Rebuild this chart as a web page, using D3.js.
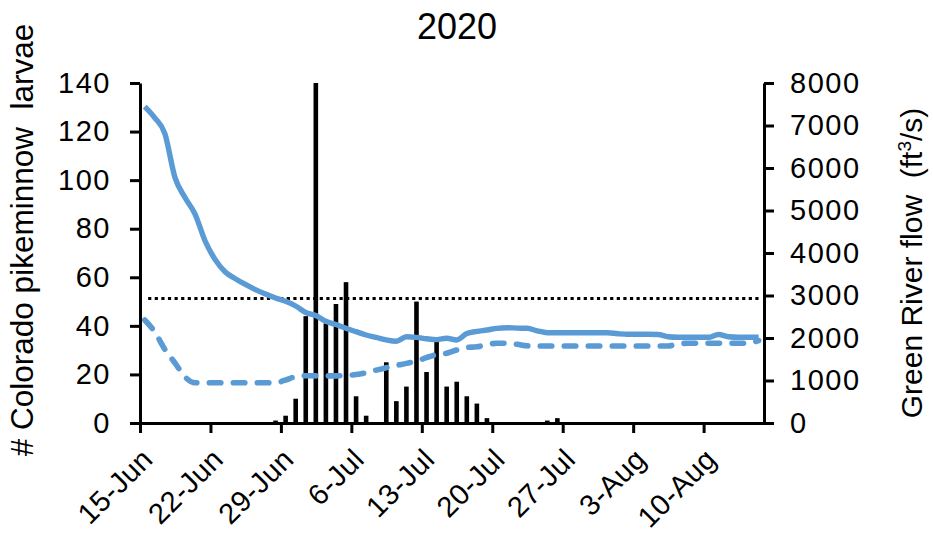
<!DOCTYPE html>
<html>
<head>
<meta charset="utf-8">
<script src="https://cdn.jsdelivr.net/npm/d3@7"></script>
<style>
  html, body { margin: 0; padding: 0; background: #fff; }
  svg text { font-family: "Liberation Sans", Arial, sans-serif; fill: #000; }
</style>
</head>
<body>
<svg id="chart" width="933" height="533"></svg>
<script>
// ---- data ----
const startDate = "2020-06-15";           // day 0
const nDays = 62;                          // 15-Jun .. 15-Aug
const tickDays = [0, 7, 14, 21, 28, 35, 42, 49, 56];
const larvaeTicks = [0, 20, 40, 60, 80, 100, 120, 140];
const flowTicks = [0, 1000, 2000, 3000, 4000, 5000, 6000, 7000, 8000];

// Green River flow 2020 (ft3/s), one value per day
const flow2020 = [7445,7180,6811,5780,5305,4917,4282,3844,3553,3395,
  3260,3138,3035,2943,2863,2753,2600,2529,2393,2317,
  2228,2150,2071,2014,1955,1923,2031,2016,1983,1962,
  1993,1952,2105,2157,2188,2228,2242,2233,2228,2169,
  2124,2124,2124,2124,2124,2124,2124,2101,2087,2087,
  2087,2084,2028,2016,2016,2016,2016,2083,2028,2016,
  2016,2016];

// dashed flow series (ft3/s)
const flowDashed = [2423,2141,1732,1416,1084,948,948,948,948,948,
  948,948,948,948,1012,1093,1113,1110,1110,1110,
  1117,1139,1181,1244,1301,1355,1403,1458,1539,1608,
  1640,1718,1778,1792,1847,1875,1875,1852,1816,1811,
  1811,1811,1811,1811,1811,1811,1811,1811,1811,1811,
  1811,1811,1811,1864,1875,1875,1875,1875,1875,1875,
  1882,1941];

// dotted threshold flow (ft3/s)
const thresholdFlow = 2930;

// larvae counts: [day index, count]
const larvaeDays   = [13, 14, 15, 16, 17, 18, 19, 20, 21, 22, 24, 25, 26, 27, 28, 29, 30, 31, 32, 33, 34, 40, 41];
const larvaeCounts = [ 1,  3, 10, 44, 140, 41, 49, 58, 11,  3, 25,  9, 15, 50, 21, 34, 15, 17, 11,  8,  2,  1,  2];

// ---- layout ----
const svg = d3.select("#chart");
const L = 140, R = 764, T = 83, B = 423;
const blue = "#5B9BD5";
const font = '"Liberation Sans", Arial, sans-serif';

const x = d3.scaleLinear().domain([0, nDays]).range([L, R]);
const yL = d3.scaleLinear().domain([0, 140]).range([B, T]);
const yR = d3.scaleLinear().domain([0, 8000]).range([B, T]);
const center = d => x(d + 0.47);

const start = d3.timeParse("%Y-%m-%d")(startDate);
const fmt = d3.timeFormat("%-d-%b");

// bars
svg.append("g").selectAll("rect")
  .data(larvaeDays.map((d, i) => ({ d, v: larvaeCounts[i] })))
  .join("rect")
  .attr("x", p => center(p.d) - 2.3)
  .attr("width", 4.6)
  .attr("y", p => yL(p.v))
  .attr("height", p => yL(0) - yL(p.v))
  .attr("fill", "#000");

// dotted threshold
const days = d3.range(nDays);
svg.append("path")
  .datum(days)
  .attr("d", d3.line().x(d => center(d)).y(() => yR(thresholdFlow)))
  .attr("fill", "none")
  .attr("stroke", "#000")
  .attr("stroke-width", 3)
  .attr("stroke-dasharray", "3.2,3.4")
  .attr("stroke-dashoffset", 3.2);

// dashed flow line
svg.append("path")
  .datum(flowDashed)
  .attr("d", d3.line().x((v, i) => center(i)).y(v => yR(v)).curve(d3.curveMonotoneX))
  .attr("fill", "none")
  .attr("stroke", blue)
  .attr("stroke-width", 5.6)
  .attr("stroke-linecap", "round")
  .attr("stroke-dasharray", "11.5,12.5");

// solid flow line
svg.append("path")
  .datum(flow2020)
  .attr("d", d3.line().x((v, i) => center(i)).y(v => yR(v)).curve(d3.curveMonotoneX))
  .attr("fill", "none")
  .attr("stroke", blue)
  .attr("stroke-width", 5.4)
  .attr("stroke-linejoin", "round");

// axes
function styleAxis(g) {
  g.select(".domain").attr("stroke", "#000").attr("stroke-width", 3);
  g.selectAll(".tick line").attr("stroke", "#000").attr("stroke-width", 3);
  g.selectAll(".tick text").attr("font-family", font).attr("font-size", 29)
    .attr("letter-spacing", "1.5px").attr("fill", "#000");
}

const gx = svg.append("g").attr("transform", `translate(0,${B})`)
  .call(d3.axisBottom(x).tickValues(tickDays).tickSize(10).tickSizeOuter(0)
    .tickFormat(d => fmt(d3.timeDay.offset(start, d))));
styleAxis(gx);
gx.selectAll(".tick text")
  .attr("text-anchor", "end")
  .attr("x", 0).attr("y", 0).attr("dy", 0)
  .attr("font-size", 29)
  .attr("letter-spacing", "0.5px")
  .attr("transform", "translate(14,38) rotate(-45)");

const gl = svg.append("g").attr("transform", `translate(${L},0)`)
  .call(d3.axisLeft(yL).tickValues(larvaeTicks).tickSize(10).tickSizeOuter(0).tickPadding(19)
    .tickFormat(d3.format("d")));
styleAxis(gl);

const gr = svg.append("g").attr("transform", `translate(${R},0)`)
  .call(d3.axisRight(yR).tickValues(flowTicks).tickSize(10).tickSizeOuter(0).tickPadding(16)
    .tickFormat(d3.format("d")));
styleAxis(gr);

// titles
svg.append("text")
  .attr("x", 457).attr("y", 39)
  .attr("text-anchor", "middle")
  .attr("font-size", 36)
  .text("2020");

svg.append("text")
  .attr("transform", "translate(33,240) rotate(-90)")
  .attr("text-anchor", "middle")
  .attr("font-size", 31.5)
  .style("white-space", "pre")
  .text("# Colorado pikeminnow  larvae");

const rt = svg.append("text")
  .attr("transform", "translate(922,263) rotate(-90)")
  .attr("text-anchor", "middle")
  .attr("font-size", 30)
  .style("white-space", "pre");
rt.append("tspan").text("Green River flow  (ft");
rt.append("tspan").attr("font-size", 19).attr("dy", -11).text("3");
rt.append("tspan").attr("dy", 11).text("/s)");
</script>
</body>
</html>
